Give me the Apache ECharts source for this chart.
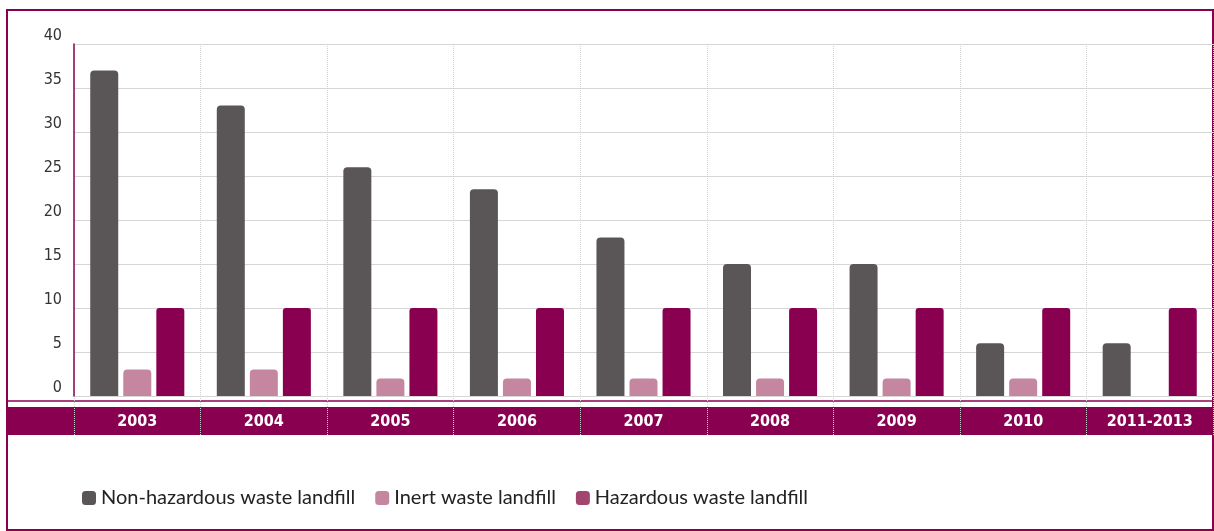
<!DOCTYPE html>
<html>
<head>
<meta charset="utf-8">
<script src="https://cdn.jsdelivr.net/npm/echarts@6/dist/echarts.min.js"></script>
<style>
  html, body { margin: 0; padding: 0; background: #fff; }
  #chart { width: 1214px; height: 531px; }
</style>
</head>
<body>
<div id="chart"></div>
<script>
var years = ['2003', '2004', '2005', '2006', '2007', '2008', '2009', '2010', '2011-2013'];
var nonHazardous = [37, 33, 26, 23.5, 18, 15, 15, 6, 6];
var inert = [3, 3, 2, 2, 2, 2, 2, 2, 0];
var hazardous = [10, 10, 10, 10, 10, 10, 10, 10, 10];
var yTicks = [0, 5, 10, 15, 20, 25, 30, 35, 40];

var purple = '#8a0050';
var myChart = echarts.init(document.getElementById('chart'));

var barBase = {
    type: 'bar',
    barWidth: 28,
    barGap: '18%',
    xAxisIndex: 0,
    yAxisIndex: 0
};

var option = {
    animation: false,
    textStyle: { fontFamily: 'Liberation Sans Narrow, DejaVu Sans Condensed, Lato, sans-serif' },
    graphic: [
        {
            type: 'rect', z: -10,
            shape: { x: 7, y: 10, width: 1206, height: 520 },
            style: { fill: 'none', stroke: purple, lineWidth: 2 }
        },
        {
            type: 'rect', z: -10,
            shape: { x: 7, y: 407, width: 1206, height: 28 },
            style: { fill: purple }
        },
        {
            type: 'line', z: -10,
            shape: { x1: 7, y1: 401, x2: 1213, y2: 401 },
            style: { stroke: purple, lineWidth: 1.5 }
        }
    ],
    grid: [
        { left: 74, right: 1, top: 44, bottom: 135 },
        { left: 74, right: 1, top: 44, bottom: 96 }
    ],
    legend: {
        left: 77,
        top: 483,
        itemWidth: 14,
        itemHeight: 14,
        itemGap: 20,
        icon: 'roundRect',
        textStyle: { fontSize: 20, color: '#222', fontFamily: 'Lato, sans-serif' },
        data: [
            { name: 'Non-hazardous waste landfill', itemStyle: { color: '#5a5657' } },
            { name: 'Inert waste landfill', itemStyle: { color: '#c4879f' } },
            { name: 'Hazardous waste landfill', itemStyle: { color: '#a3466f' } }
        ]
    },
    xAxis: [
        {
            type: 'category',
            gridIndex: 0,
            data: years,
            axisLine: { show: false },
            axisTick: { show: false },
            splitLine: { show: false },
            axisLabel: {
                margin: 18,
                color: '#fff',
                fontWeight: 'bold',
                fontSize: 16
            }
        },
        {
            type: 'category',
            gridIndex: 1,
            data: years,
            axisLine: { show: false },
            axisTick: { show: false },
            axisLabel: { show: false },
            splitLine: {
                show: true,
                interval: 0,
                lineStyle: { color: '#d0d0d0', type: 'dotted', width: 1 }
            }
        }
    ],
    yAxis: [
        {
            type: 'value',
            gridIndex: 0,
            min: yTicks[0],
            max: yTicks[yTicks.length - 1],
            interval: 5,
            axisLine: { show: true, lineStyle: { color: purple, width: 1.5 } },
            axisTick: { show: false },
            splitLine: { lineStyle: { color: '#d6d6d6', width: 1 } },
            axisLabel: {
                color: '#333',
                fontSize: 16,
                margin: 12,
                verticalAlign: 'bottom'
            }
        },
        {
            type: 'value',
            gridIndex: 1,
            show: false
        }
    ],
    series: [
        Object.assign({}, barBase, {
            name: 'Non-hazardous waste landfill',
            data: nonHazardous,
            itemStyle: { color: '#5a5657', borderRadius: [4, 4, 0, 0] }
        }),
        Object.assign({}, barBase, {
            name: 'Inert waste landfill',
            data: inert,
            itemStyle: { color: '#c4879f', borderRadius: [4, 4, 0, 0] }
        }),
        Object.assign({}, barBase, {
            name: 'Hazardous waste landfill',
            data: hazardous,
            itemStyle: { color: purple, borderRadius: [3, 3, 0, 0] }
        })
    ]
};
myChart.setOption(option);
</script>
</body>
</html>
